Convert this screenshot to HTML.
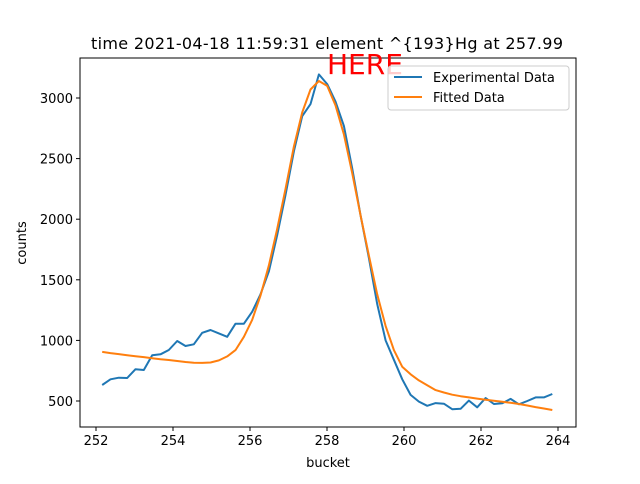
<!DOCTYPE html>
<html><head><meta charset="utf-8"><style>
body{margin:0;background:#fff;font-family:"DejaVu Sans","Liberation Sans",sans-serif;}
</style></head><body>
<svg id="chart" width="640" height="480" xmlns="http://www.w3.org/2000/svg" font-family="DejaVu Sans, Liberation Sans, sans-serif">
<rect width="640" height="480" fill="#fff"/>
<text x="327" y="49" font-size="16" text-anchor="middle" textLength="472">time 2021-04-18 11:59:31 element ^{193}Hg at 257.99</text>
<g id="plot"></g>
<rect x="80" y="58" width="496" height="369" fill="none" stroke="#000" stroke-width="1"/>
<text x="328" y="467" font-size="13" text-anchor="middle">bucket</text>
<text transform="translate(26,243) rotate(-90)" font-size="13" text-anchor="middle">counts</text>
<text x="327" y="74" font-size="28" fill="#ff0000">HERE</text>
<g>
<rect x="388" y="66" width="181" height="44" rx="3" fill="#fff" fill-opacity="0.8" stroke="#ccc"/>
<line x1="394" y1="77" x2="422" y2="77" stroke="#1f77b4" stroke-width="2"/>
<text x="433" y="82" font-size="13">Experimental Data</text>
<line x1="394" y1="97" x2="422" y2="97" stroke="#ff7f0e" stroke-width="2"/>
<text x="433" y="102" font-size="13">Fitted Data</text>
</g>
</svg>
<script>
const xStart = 252.16, xStep = 0.2165;
const experimental = [632,679,692,690,762,756,877,885,921,995,954,968,1063,1086,1058,1030,1138,1138,1237,1380,1570,1870,2200,2560,2850,2950,3195,3115,2970,2770,2420,2030,1680,1300,1000,840,680,550,495,460,483,478,432,436,503,448,525,475,481,517,473,500,530,530,558];
const fitted = [905,895,887,878,870,862,853,845,838,830,822,816,814,818,835,868,920,1030,1170,1370,1620,1920,2250,2600,2880,3070,3140,3100,2940,2700,2380,2030,1700,1380,1120,920,783,720,670,630,590,570,552,540,530,520,510,502,494,485,475,463,450,438,426];
const xTicks = [252,254,256,258,260,262,264];
const yTicks = [500,1000,1500,2000,2500,3000];
const NS="http://www.w3.org/2000/svg";
function xs(v){return 96+(v-252)*38.5;}
function ys(v){return 401-(v-500)*0.1212;}
const g=document.getElementById('plot');
function mk(t,a){const e=document.createElementNS(NS,t);for(const k in a)e.setAttribute(k,a[k]);g.appendChild(e);return e;}
xTicks.forEach(t=>{
 const l=mk('line',{x1:xs(t),x2:xs(t),y1:427,y2:431,stroke:'#000'});
 
 
 const tx=mk('text',{x:xs(t),y:445,'font-size':13,'text-anchor':'middle'});
 tx.textContent=t;
 
 
});
yTicks.forEach(t=>{
 const l=mk('line',{x1:76,x2:80,y1:ys(t),y2:ys(t),stroke:'#000'});
 
 
 const tx=mk('text',{x:73,y:ys(t)+5,'font-size':13,'text-anchor':'end'});
 tx.textContent=t;
 
 
});
function series(arr,color,name){
 const pts=arr.map((v,i)=>xs(xStart+i*xStep).toFixed(1)+','+ys(v).toFixed(1)).join(' ');
 const p=mk('polyline',{points:pts,fill:'none',stroke:color,'stroke-width':2,'stroke-linejoin':'round'});
 
 
}
series(experimental,'#1f77b4','experimental-line');
series(fitted,'#ff7f0e','fitted-line');
</script>
</body></html>
